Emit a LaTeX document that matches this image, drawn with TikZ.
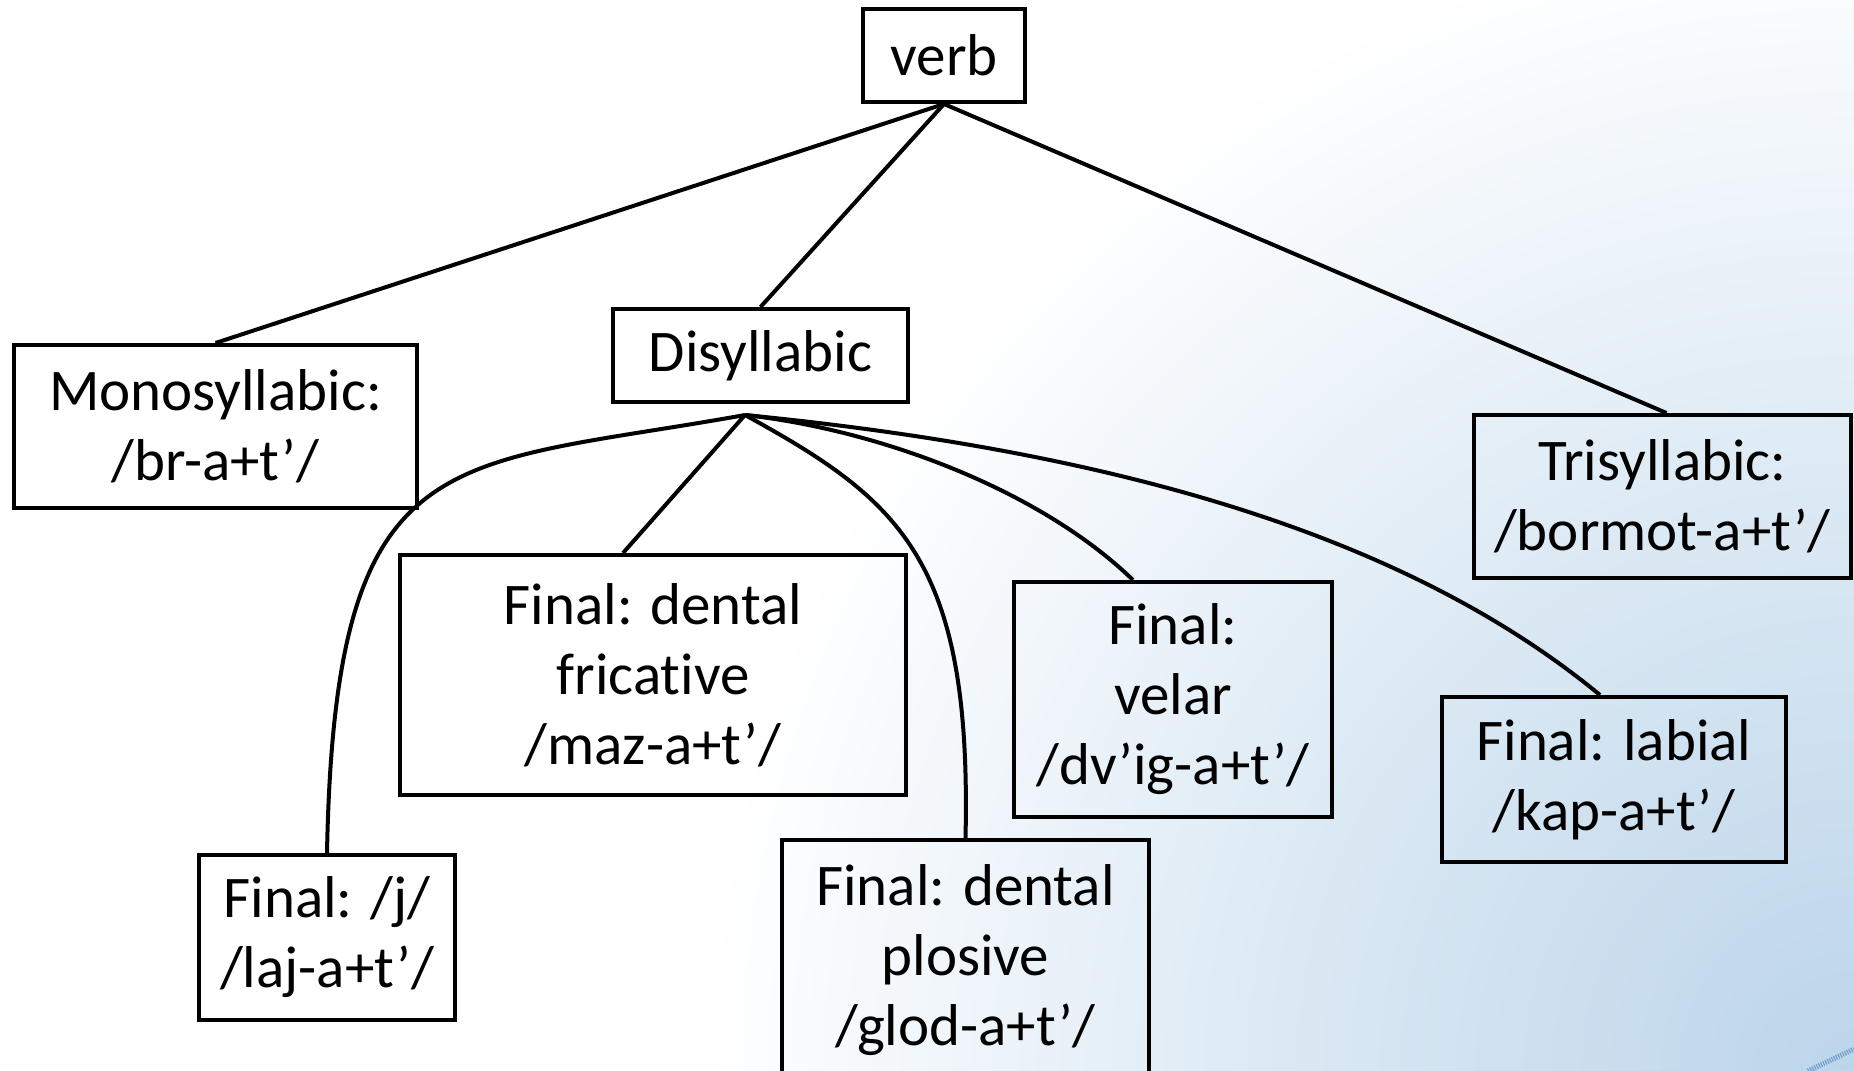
\documentclass[tikz,border=0pt]{standalone}
\usepackage{fontspec}
\setmainfont[Ligatures=NoCommon]{Carlito}
\usetikzlibrary{calc}
\definecolor{bgblue}{RGB}{188,213,234}
\definecolor{bgmid}{RGB}{216,231,243}
\definecolor{bgdeco}{RGB}{110,160,205}
\pgfdeclareradialshading{bgshade}{\pgfpoint{0bp}{0bp}}{color(0bp)=(bgblue); color(9bp)=(bgmid); color(20bp)=(white); color(25bp)=(white); color(50bp)=(white)}
\begin{document}
\begin{tikzpicture}[x=0.5pt,y=-0.5pt,
  box/.style={draw, line width=2pt, rectangle, inner sep=0pt, align=center,
    font=\fontsize{29.5}{35}\selectfont},
  link/.style={line width=2pt}]
\useasboundingbox (0,0) rectangle (1854,1071);
\clip (0,0) rectangle (1854,1071);
\fill[white] (0,0) rectangle (1854,1071);
\shade[shading=bgshade] (1854,1071) circle (720pt);
\draw[bgdeco, line width=2.5pt, dash pattern=on 0.6pt off 0.6pt] (1808,1071) -- (1854,1049);

\node[box, minimum width=81pt, minimum height=46.5pt] (verb) at (944,55.5) {verb};
\node[box, minimum width=147.5pt, minimum height=46.5pt] (disyl) at (760.5,355.5) {Disyllabic};
\node[box, minimum width=201.5pt, minimum height=81.5pt] (mono) at (215.5,426.5) {Monosyllabic:\\/br-a+t’/};
\node[box, minimum width=188.5pt, minimum height=81.5pt] (tri) at (1662.5,496.5) {Trisyllabic:\\/bormot-a+t’/};
\node[box, minimum width=253pt, minimum height=120pt] (fric) at (653,675) {Final: dental\\fricative\\/maz-a+t’/};
\node[box, minimum width=159pt, minimum height=117.5pt] (velar) at (1173,699.5) {Final:\\velar\\/dv’ig-a+t’/};
\node[box, minimum width=172pt, minimum height=82.5pt] (labial) at (1614,779.5) {Final: labial\\/kap-a+t’/};
\node[box, minimum width=128pt, minimum height=82.5pt] (jj) at (327,937.5) {Final: /j/\\/laj-a+t’/};
\node[box, anchor=north, minimum width=183.5pt, inner ysep=12.5pt, text depth=25pt] (plos) at (965.5,838) {Final: dental\\plosive\\/glod-a+t’/};

\coordinate (J) at (745,415);

\draw[link] (verb.south) -- (mono.north);
\draw[link] (verb.south) -- (disyl.north);
\draw[link] (verb.south) -- ($(tri.north)+(4,0)$);

\draw[link] (J) .. controls (445,469) and (335,436) .. (jj.north);
\draw[link] (J) -- ($(fric.north)+(-30,0)$);
\draw[link] (J) .. controls (900,500) and (972,560) .. (plos.north);
\draw[link] (J) .. controls (880,430) and (1040,490) .. ($(velar.north)+(-40,0)$);
\draw[link] (J) .. controls (1100,450) and (1400,530) .. ($(labial.north)+(-14,0)$);
\end{tikzpicture}
\end{document}
